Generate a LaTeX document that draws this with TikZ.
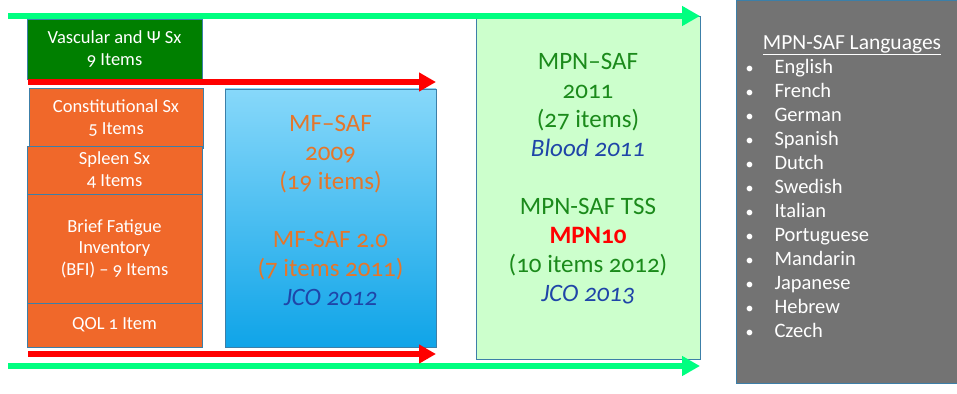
\documentclass[tikz,border=0pt]{standalone}
\usepackage{fontspec}
\setmainfont{Carlito}[Numbers=OldStyle]
\usetikzlibrary{arrows.meta}
\definecolor{boxedge}{HTML}{3C7FA8}
\definecolor{orangebox}{HTML}{F0682A}
\definecolor{darkgreenbox}{HTML}{007F00}
\definecolor{lightgreenbox}{HTML}{CCFFCC}
\definecolor{graypanel}{HTML}{737373}
\definecolor{bluetop}{HTML}{87D8FA}
\definecolor{bluebot}{HTML}{0FA4E8}
\definecolor{arrowgreen}{HTML}{00FF80}
\definecolor{mforange}{HTML}{E5762A}
\definecolor{mpngreen}{HTML}{1B8A1B}
\definecolor{refblue}{HTML}{1F45A8}
\begin{document}
\begin{tikzpicture}[x=1pt,y=-1pt,
  box/.style={draw=boxedge, line width=0.8pt, inner sep=0pt},
  smallbox/.style={box, fill=orangebox, minimum width=175pt, text=white, align=center,
    font=\fontsize{18.5}{21.5}\selectfont},
  bigtext/.style={align=center, font=\fontsize{25}{29}\selectfont},
  greenarrow/.style={draw=arrowgreen, line width=6pt, -{Triangle[length=18pt,width=19pt]}},
  redarrow/.style={draw=red, line width=6pt, -{Triangle[length=17pt,width=18pt]}},
  langtext/.style={text=white, font=\fontsize{20.5}{24}\selectfont}
]
\useasboundingbox (0,0) rectangle (957,393);
% grey panel
\node[box, fill=graypanel, minimum width=222pt, minimum height=383pt] (panel) at (847,191.5) {};
% left boxes
\node[smallbox, fill=darkgreenbox, minimum height=60pt] (vasc) at (114.5,49) {Vascular and \textup{Ψ} Sx\\9 Items};
\node[smallbox, minimum width=174pt, minimum height=60pt] (const) at (116,118) {Constitutional Sx\\5 Items};
\node[smallbox, minimum height=48pt] (spleen) at (114.5,170) {Spleen Sx\\4 Items};
\node[smallbox, minimum height=109pt] (bfi) at (114.5,248.5) {Brief Fatigue\\Inventory\\(BFI) – 9 Items};
\node[smallbox, minimum height=44pt] (qol) at (114.5,325) {QOL 1 Item};
% MF-SAF box
\node[box, top color=bluetop, bottom color=bluebot, minimum width=211pt, minimum height=258pt] (mfsaf) at (330.5,218) {};
\node[bigtext, text=mforange] (mftext) at (330.5,210) {MF–SAF\\2009\\(19 items)\\[29pt]MF-SAF 2.0\\(7 items 2011)\\{\color{refblue}\itshape JCO 2012}};
% MPN-SAF box
\node[box, fill=lightgreenbox, minimum width=224pt, minimum height=343pt] (mpnsaf) at (588,187.5) {};
\node[bigtext, text=mpngreen] (mpntext) at (588,179) {MPN–SAF\\2011\\(27 items)\\{\color{refblue}\itshape Blood 2011}\\[29pt]MPN-SAF TSS\\{\color{red}\bfseries MPN10}\\(10 items 2012)\\{\color{refblue}\itshape JCO 2013}};
% arrows
\coordinate (gts) at (8,16);   \coordinate (gte) at (700,16);
\coordinate (gbs) at (8,366);  \coordinate (gbe) at (700,366);
\coordinate (rts) at (28,82);  \coordinate (rte) at (436,82);
\coordinate (rbs) at (28,354); \coordinate (rbe) at (436,354);
\draw[greenarrow] (gts) -- (gte);
\draw[greenarrow] (gbs) -- (gbe);
\draw[redarrow] (rts) -- (rte);
\draw[redarrow] (rbs) -- (rbe);
% languages
\node[langtext, font=\fontsize{21.5}{24}\selectfont] (langtitle) at (852,45) {\underline{MPN-SAF Languages}};
\node[langtext, align=left, anchor=north west] (langlist) at (742,56) {%
\makebox[29pt][l]{\fontsize{16}{24}\selectfont •}English\\
\makebox[29pt][l]{\fontsize{16}{24}\selectfont •}French\\
\makebox[29pt][l]{\fontsize{16}{24}\selectfont •}German\\
\makebox[29pt][l]{\fontsize{16}{24}\selectfont •}Spanish\\
\makebox[29pt][l]{\fontsize{16}{24}\selectfont •}Dutch\\
\makebox[29pt][l]{\fontsize{16}{24}\selectfont •}Swedish\\
\makebox[29pt][l]{\fontsize{16}{24}\selectfont •}Italian\\
\makebox[29pt][l]{\fontsize{16}{24}\selectfont •}Portuguese\\
\makebox[29pt][l]{\fontsize{16}{24}\selectfont •}Mandarin\\
\makebox[29pt][l]{\fontsize{16}{24}\selectfont •}Japanese\\
\makebox[29pt][l]{\fontsize{16}{24}\selectfont •}Hebrew\\
\makebox[29pt][l]{\fontsize{16}{24}\selectfont •}Czech};
\end{tikzpicture}
\end{document}
